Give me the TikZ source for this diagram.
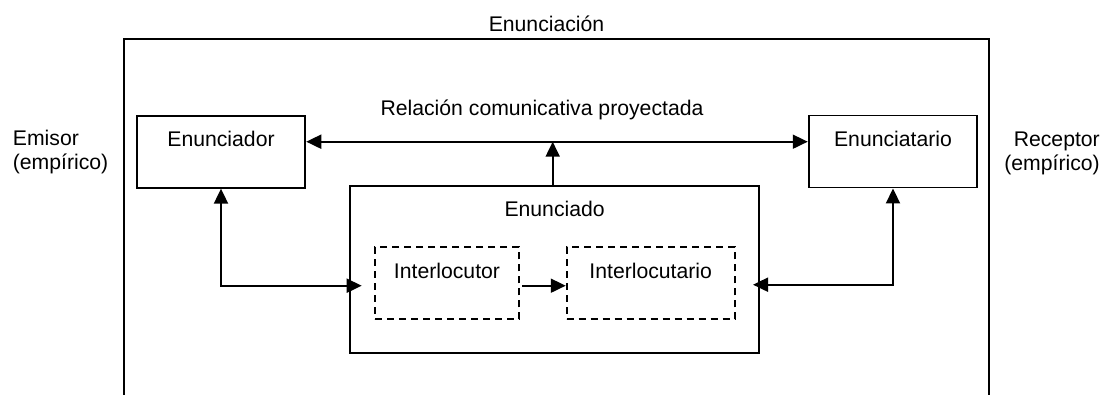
\documentclass[tikz,border=0pt]{standalone}
\usepackage{fontspec}
\setmainfont{Liberation Sans}
\usetikzlibrary{arrows.meta}
\begin{document}
\begin{tikzpicture}[x=1pt,y=-1pt,
  every node/.style={font=\fontsize{21.2}{24.2}\selectfont},
  dashbox/.style={draw=black,line width=1.9pt,dash pattern=on 7pt off 5pt,inner sep=0pt},
  solidbox/.style={draw=black,line width=1.9pt,inner sep=0pt},
  txt/.style={inner sep=0pt,anchor=base},
  conn/.style={line width=1.9pt,-{Triangle[length=15pt,width=14pt]}},
  dconn/.style={line width=1.9pt,{Triangle[length=15pt,width=14pt]}-{Triangle[length=15pt,width=14pt]}}
]
\useasboundingbox (0,0) rectangle (1104,394);
% outer frame (open at bottom)
\draw[line width=1.9pt] (124.3,400) -- (124.3,39.4) -- (988.7,39.4) -- (988.7,400);
\node[txt] (tEnunciacion) at (546.5,31.7) {Enunciación};
% boxes
\node[solidbox,minimum width=168.6pt,minimum height=72pt] (enr) at (221,151.7) {};
\node[solidbox,minimum width=168.6pt,minimum height=72pt] (eno) at (893,151.5) {};
\node[solidbox,minimum width=409.3pt,minimum height=167.6pt] (ed) at (554.6,269.5) {};
\node[dashbox,minimum width=144pt,minimum height=72pt] (il) at (447,283.3) {};
\node[dashbox,minimum width=168pt,minimum height=72pt] (ilo) at (650.7,283.3) {};
% labels
\node[txt] (tenr) at (221,146.7) {Enunciador};
\node[txt] (teno) at (893,146.7) {Enunciatario};
\node[txt] (ted) at (554.6,216.7) {Enunciado};
\node[txt] (til) at (447,278.3) {Interlocutor};
\node[txt] (tilo) at (650.7,278.3) {Interlocutario};
\node[txt] (trel) at (542,115) {Relación comunicativa proyectada};
\node[inner sep=0pt,anchor=base west,align=left] (temi) at (12.7,169.2) {Emisor\\(empírico)};
\node[inner sep=0pt,anchor=base east,align=right] (trec) at (1100,170.9) {Receptor\\(empírico)};
% connectors
\coordinate (hline) at (0,141.7);
\coordinate (tipL) at (361.7,285.7);
\coordinate (tipR) at (753,284.7);
\draw[dconn] (enr.east |- hline) -- (eno.west |- hline);
\draw[conn] (ed.north -| 552.7,0) -- (552.7,141.7);
\draw[dconn] (enr.south) |- (tipL);
\draw[dconn] (eno.south) |- (tipR);
\draw[conn,shorten <=2.5pt] (il.east |- tipL) -- (ilo.west |- tipL);
\end{tikzpicture}
\end{document}
